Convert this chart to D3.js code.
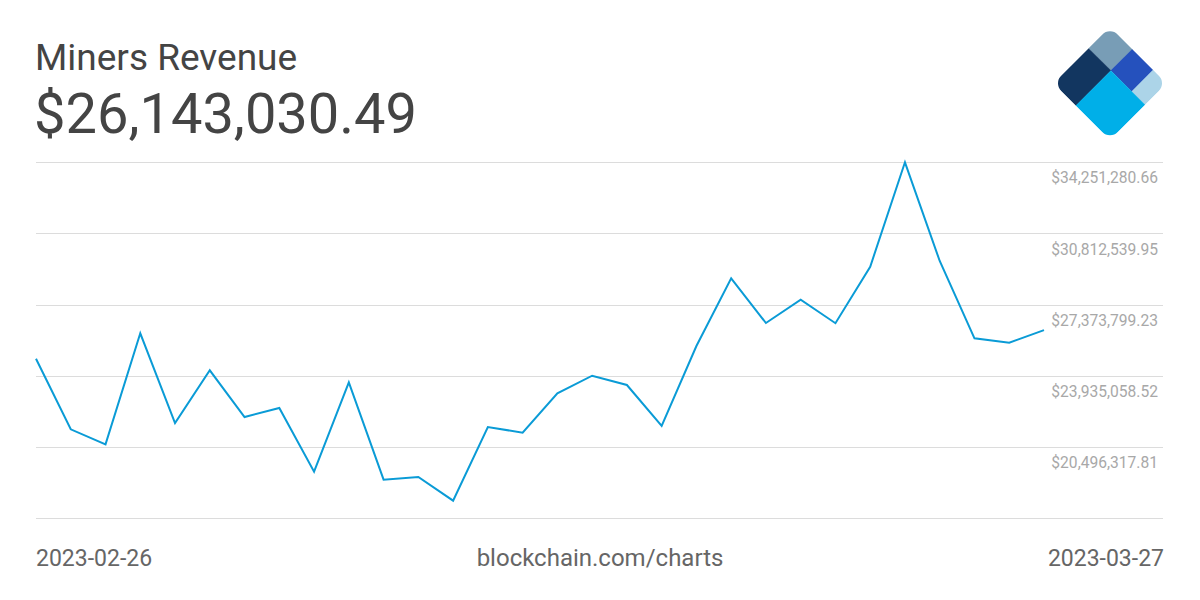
<!DOCTYPE html>
<html>
<head>
<meta charset="utf-8">
<script src="https://cdn.jsdelivr.net/npm/d3@7"></script>
<style>
  html, body { margin: 0; padding: 0; background: #fff; }
  svg { display: block; font-family: Roboto, "Noto Sans", sans-serif; }
</style>
</head>
<body>
<svg id="chart" width="1200" height="600"></svg>
<script>
const title = "Miners Revenue";
const headline = "$26,143,030.49";
const startLabel = "2023-02-26";
const endLabel = "2023-03-27";
const sourceLabel = "blockchain.com/charts";

const dates = [
  "2023-02-26","2023-02-27","2023-02-28","2023-03-01","2023-03-02","2023-03-03",
  "2023-03-04","2023-03-05","2023-03-06","2023-03-07","2023-03-08","2023-03-09",
  "2023-03-10","2023-03-11","2023-03-12","2023-03-13","2023-03-14","2023-03-15",
  "2023-03-16","2023-03-17","2023-03-18","2023-03-19","2023-03-20","2023-03-21",
  "2023-03-22","2023-03-23","2023-03-24","2023-03-25","2023-03-26","2023-03-27"
];
const revenue = [
  24765750, 21355982, 20631527, 25992494, 21660253, 24205505,
  21950035, 22384708, 19308189, 23625941, 18921813, 19052215,
  17907576, 21467365, 21192072, 23094674, 23944701, 23495539,
  21515662, 25379122, 28648829, 26489953, 27615273, 26480000,
  29209074, 34251280.66, 29484367, 25751009, 25538502, 26143030.49
];
const tickValues = [20496317.81, 23935058.52, 27373799.23, 30812539.95, 34251280.66];

const svg = d3.select("#chart");

const left = 36, right = 1163;
const tickStep = tickValues[1] - tickValues[0];
const yMin = tickValues[0] - tickStep;
const yMax = tickValues[tickValues.length - 1];

const x = d3.scaleLinear().domain([0, dates.length - 1]).range([36, 1044]);
const y = d3.scaleLinear().domain([yMin, yMax]).range([518.3, 162.3]);

// gridlines (including the bottom one)
const gridVals = [yMin].concat(tickValues);
svg.append("g").selectAll("line").data(gridVals).join("line")
  .attr("x1", left).attr("x2", right)
  .attr("y1", d => Math.round(y(d)) + 0.5).attr("y2", d => Math.round(y(d)) + 0.5)
  .attr("stroke", "#dcdcdc").attr("stroke-width", 1);

// tick labels
const fmt = d => "$" + d3.format(",.2f")(d);
svg.append("g").selectAll("text").data(tickValues).join("text")
  .attr("x", 1158).attr("y", d => y(d) + 21)
  .attr("text-anchor", "end")
  .attr("fill", "#a8a8a8").attr("font-size", "15.6px")
  .text(fmt);

// line
const line = d3.line().x((d, i) => x(i)).y(d => y(d));
svg.append("path").datum(revenue)
  .attr("d", line)
  .attr("fill", "none")
  .attr("stroke", "#0a9bd6")
  .attr("stroke-width", 2)
  .attr("stroke-linejoin", "miter");

// title
svg.append("text").attr("x", 35).attr("y", 70)
  .attr("fill", "#444").attr("font-size", "37px").text(title);
svg.append("text").attr("x", 34).attr("y", 133)
  .attr("fill", "#444").attr("font-size", "56px").text(headline);

// bottom labels
svg.append("text").attr("x", 36).attr("y", 566)
  .attr("fill", "#666").attr("font-size", "23px").text(startLabel);
svg.append("text").attr("x", 600).attr("y", 566).attr("text-anchor", "middle")
  .attr("fill", "#666").attr("font-size", "24px").text(sourceLabel);
svg.append("text").attr("x", 1164).attr("y", 566).attr("text-anchor", "end")
  .attr("fill", "#666").attr("font-size", "23px").text(endLabel);

// logo
const side = 80;
const defs = svg.append("defs");
defs.append("clipPath").attr("id", "logoClip")
  .append("rect").attr("width", side).attr("height", side).attr("rx", 11).attr("ry", 11);
const logo = svg.append("g").attr("transform", "translate(1110,26.7) rotate(45)");
const lg = logo.append("g").attr("clip-path", "url(#logoClip)");
const sx1 = 31.5, sx2 = 61, sy = 30.3;
const pieces = [
  {x: 0, y: 0, w: sx1, h: sy, c: "#789db6"},
  {x: 0, y: sy, w: sx1, h: side - sy, c: "#123660"},
  {x: sx1, y: 0, w: sx2 - sx1, h: sy, c: "#2551bd"},
  {x: sx2, y: 0, w: side - sx2, h: sy, c: "#acd4e8"},
  {x: sx1, y: sy, w: side - sx1, h: side - sy, c: "#00afe8"}
];
lg.selectAll("rect").data(pieces).join("rect")
  .attr("x", d => d.x).attr("y", d => d.y)
  .attr("width", d => d.w + 0.3).attr("height", d => d.h + 0.3)
  .attr("fill", d => d.c);
</script>
</body>
</html>
